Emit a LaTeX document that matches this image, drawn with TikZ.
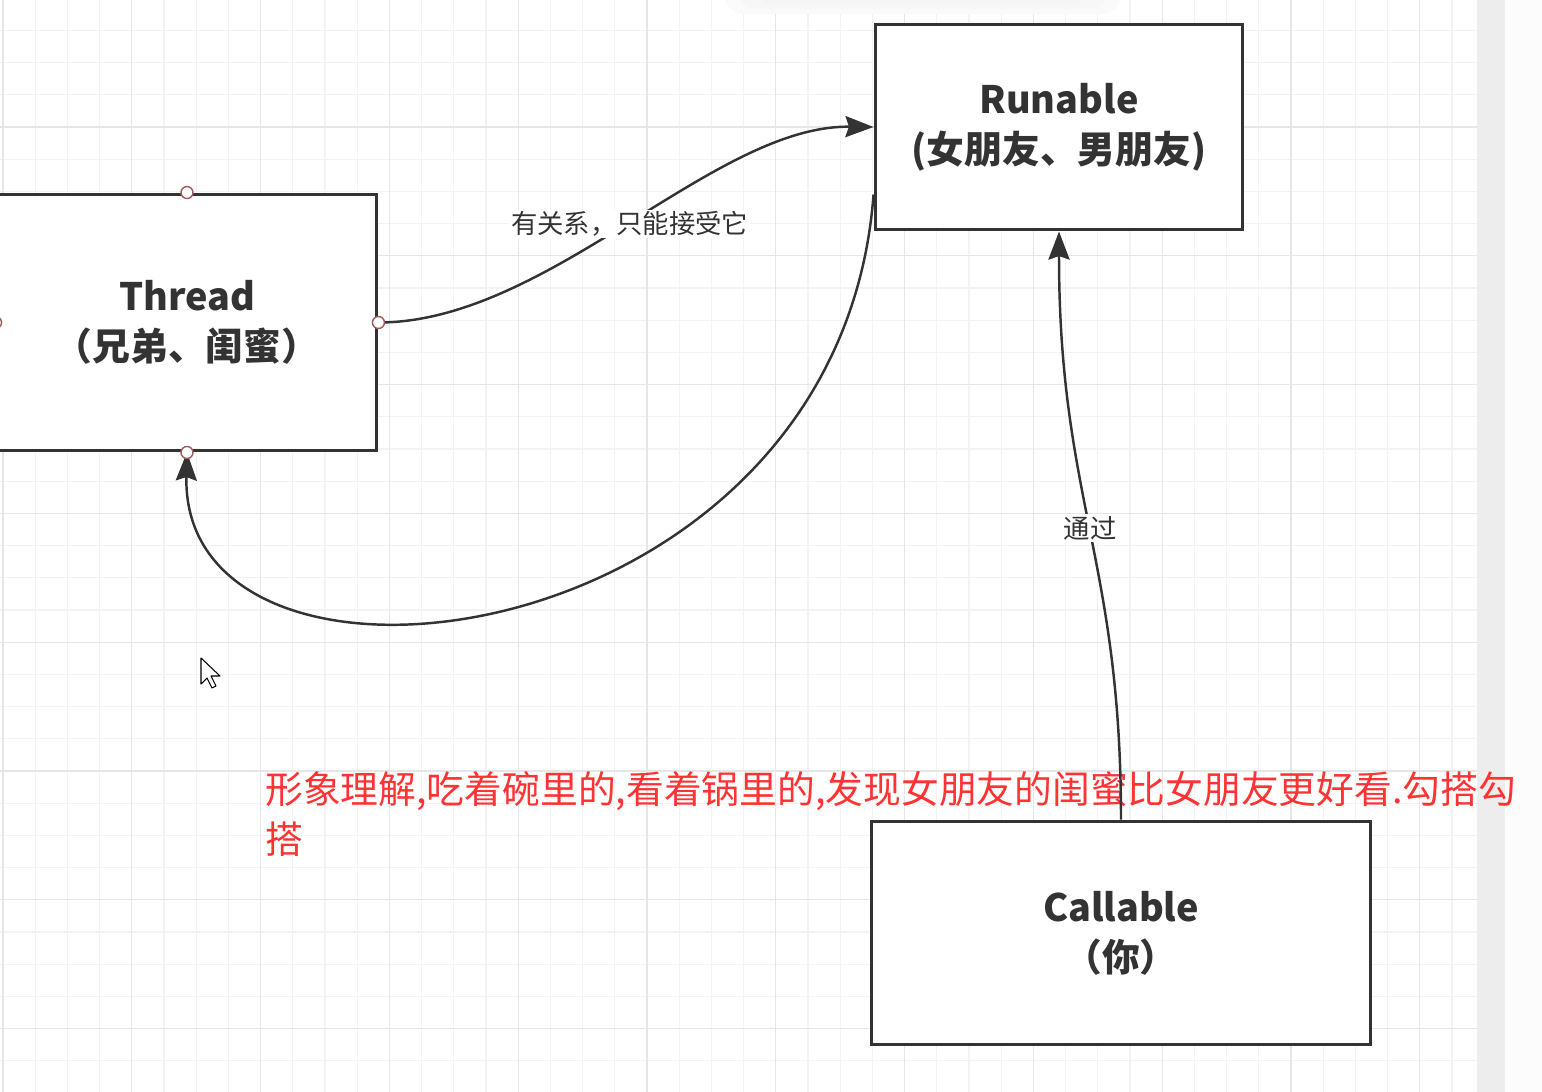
\documentclass[tikz,border=0pt]{standalone}
\usepackage{fontspec}
\newfontfamily\cjk{Noto Sans CJK SC}
\usetikzlibrary{arrows.meta}
\definecolor{ink}{HTML}{333333}
\definecolor{gridmin}{HTML}{F3F3F3}
\definecolor{gridmaj}{HTML}{E6E6E6}
\definecolor{hintred}{HTML}{FF3333}
\definecolor{portred}{HTML}{A05A5A}

\begin{document}
\begin{tikzpicture}[x=0.02cm,y=-0.02cm,
    box/.style={draw=ink,line width=1.7pt,fill=white,inner sep=0pt,align=center,
      text=ink,font=\cjk\bfseries\fontsize{21.5}{28.5}\selectfont},
    conn/.style={draw=ink,line width=1.4pt,-{Stealth[length=16pt,width=12pt,inset=2pt]}},
    lbl/.style={fill=white,inner sep=1pt,text=ink,font=\cjk\fontsize{15}{18}\selectfont},
    hint/.style={inner sep=0pt,align=left,text=hintred,font=\cjk\fontsize{21.5}{28.5}\selectfont},
    port/.style={circle,draw=portred,fill=white,line width=0.8pt,minimum size=0.24cm,inner sep=0pt}]
    \useasboundingbox (0,0) rectangle (1542,1092);
    \clip (0,0) rectangle (1542,1092);

    % canvas grid
    \foreach \k in {0,...,45}
        \draw[gridmin,line width=0.6pt] ({3+32.2*\k},0) -- ({3+32.2*\k},1092);
    \foreach \k in {0,...,34}
        \draw[gridmin,line width=0.6pt] (0,{-1.8+32.2*\k}) -- (1477,{-1.8+32.2*\k});
    \foreach \k in {0,4,...,44}
        \draw[gridmaj,line width=0.6pt] ({3+32.2*\k},0) -- ({3+32.2*\k},1092);
    \foreach \k in {0,4,...,32}
        \draw[gridmaj,line width=0.6pt] (0,{-1.8+32.2*\k}) -- (1477,{-1.8+32.2*\k});
    \fill[black!7] (1477,0) rectangle (1505,1092);
    \fill[black!1] (1505,0) rectangle (1542,1092);
    \fill[black!2,rounded corners=10pt] (725,-20) rectangle (1120,14);
    \fill[black!3,rounded corners=8pt] (740,-20) rectangle (1105,9);
    \fill[black!4,rounded corners=6pt] (760,-20) rectangle (1085,4);

    \node[box,minimum width=7.6cm,minimum height=5.14cm]   at (187,322.5)  (thr)  {Thread\\（兄弟、闺蜜）};
    \node[box,minimum width=7.36cm,minimum height=4.12cm]  at (1059,127)   (run)  {Runable\\(女朋友、男朋友)};
    \node[box,minimum width=10cm,minimum height=4.48cm]    at (1121,933)   (call) {Callable\\（你）};

    \node[hint,anchor=north west] at (265,771) (note)
        {形象理解,吃着碗里的,看着锅里的,发现女朋友的闺蜜比女朋友更好看.勾搭勾\\搭};

    \draw[conn] (thr.east) .. controls +(170,0) and +(-160,-2) .. (run.west)
        node[lbl,pos=0.5] {有关系，只能接受它};
    \draw[conn] (run.200) .. controls +(-35,466) and +(-7,285) .. (thr.south);
    \draw[conn] (call.north) .. controls +(0,-261) and +(0,268) .. (run.south)
        node[lbl,pos=0.5] {通过};

    \foreach \a in {north,east,south,west}
        \node[port] at (thr.\a) {};

    % mouse pointer
    \draw[fill=white,line width=0.6pt,line join=round] (201,658) -- ++(0,26) -- ++(6,-6)
        -- ++(5,10) -- ++(4,-2) -- ++(-5,-10) -- ++(9,0) -- cycle;
\end{tikzpicture}
\end{document}
